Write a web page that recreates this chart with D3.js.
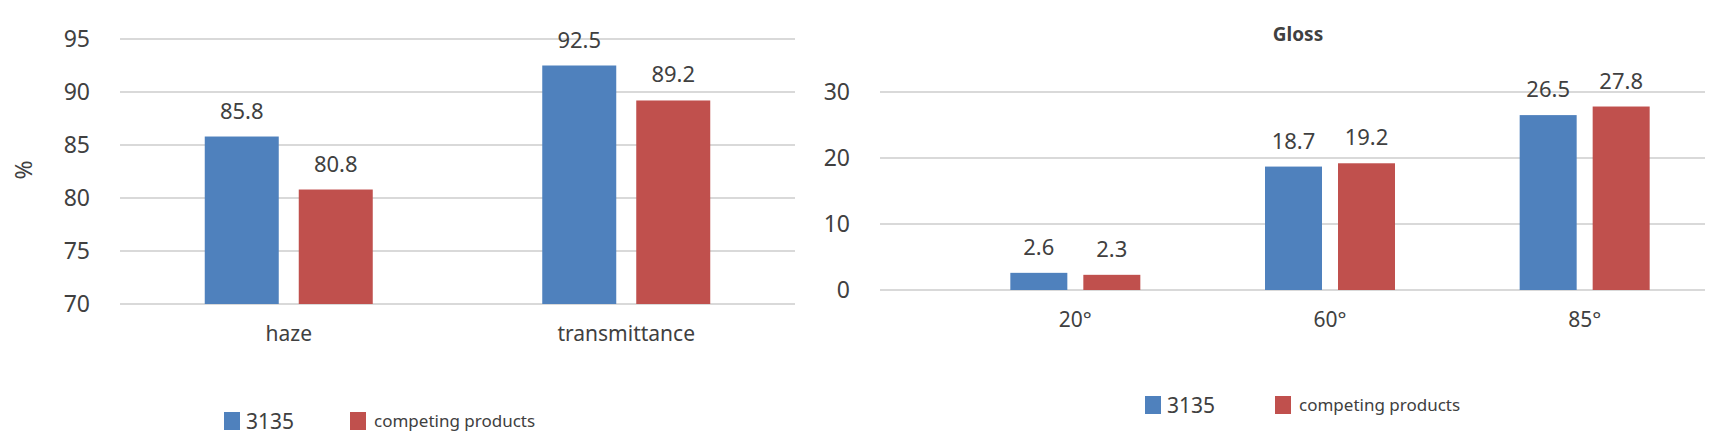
<!DOCTYPE html>
<html><head><meta charset="utf-8">
<script src="https://cdn.jsdelivr.net/npm/d3@7"></script>
<style>body{margin:0;background:#fff}text{font-family:"Noto Sans",sans-serif;fill:#404040}</style>
</head><body><div id="chart"></div>
<script>
const series = ["3135", "competing products"];
const colors = ["#4F81BD", "#C0504D"];

const leftCategories = ["haze", "transmittance"];
const leftValues = [[85.8, 92.5], [80.8, 89.2]];
const leftTicks = [70, 75, 80, 85, 90, 95];

const rightCategories = ["20°", "60°", "85°"];
const rightValues = [[2.6, 18.7, 26.5], [2.3, 19.2, 27.8]];
const rightTicks = [0, 10, 20, 30];

const svg = d3.select("#chart").append("svg").attr("width", 1716).attr("height", 441);

function drawPanel(opt) {
    const y = d3.scaleLinear().domain(opt.domain).range(opt.yRange);
    const x = d3.scaleBand().domain(opt.categories).range(opt.xRange);
    const g = svg.append("g");

    g.selectAll(".grid").data(opt.ticks).enter().append("line")
        .attr("x1", opt.gridX[0]).attr("x2", opt.gridX[1])
        .attr("y1", d => y(d)).attr("y2", d => y(d))
        .attr("stroke", "#d9d9d9").attr("stroke-width", 2);

    g.selectAll(".tick").data(opt.ticks).enter().append("text")
        .attr("x", opt.gridX[0] - 30).attr("y", d => y(d) + 8)
        .attr("text-anchor", "end").style("font-size", "23px").text(d => d);

    series.forEach((s, si) => {
        const vals = opt.values[si];
        const off = (si === 0 ? -1 : 1) * (opt.barW / 2 + opt.gap / 2);
        g.selectAll(".bar" + si).data(opt.categories).enter().append("rect")
            .attr("x", d => x(d) + x.bandwidth() / 2 + off - opt.barW / 2)
            .attr("y", (d, i) => y(vals[i]))
            .attr("width", opt.barW)
            .attr("height", (d, i) => y(opt.domain[0]) - y(vals[i]))
            .attr("fill", colors[si]);
        g.selectAll(".lab" + si).data(opt.categories).enter().append("text")
            .attr("x", d => x(d) + x.bandwidth() / 2 + off)
            .attr("y", (d, i) => y(vals[i]) - 18)
            .attr("text-anchor", "middle").style("font-size", "22px")
            .text((d, i) => vals[i]);
    });

    g.selectAll(".cat").data(opt.categories).enter().append("text")
        .attr("x", d => x(d) + x.bandwidth() / 2).attr("y", y(opt.domain[0]) + 37)
        .attr("text-anchor", "middle").style("font-size", "21px").text(d => d);

    // legend
    const lg = g.append("g").attr("transform", `translate(${opt.legend[0]},${opt.legend[1]})`);
    lg.append("rect").attr("x", 0).attr("y", -9).attr("width", 16).attr("height", 18).attr("fill", colors[0]);
    lg.append("text").attr("x", 22).attr("y", 8).style("font-size", "21px").text(series[0]);
    lg.append("rect").attr("x", opt.legendGap).attr("y", -9).attr("width", 16).attr("height", 18).attr("fill", colors[1]);
    lg.append("text").attr("x", opt.legendGap + 24).attr("y", 6).style("font-size", "17px").text(series[1]);
    return g;
}

drawPanel({
    categories: leftCategories, values: leftValues, ticks: leftTicks,
    domain: [70, 95], yRange: [304, 39], xRange: [120, 795], gridX: [120, 795],
    barW: 74, gap: 20, legend: [224, 421], legendGap: 126
});

svg.append("text").attr("transform", "translate(32,170) rotate(-90)")
    .attr("text-anchor", "middle").style("font-size", "23px").text("%");

drawPanel({
    categories: rightCategories, values: rightValues, ticks: rightTicks,
    domain: [0, 30], yRange: [290, 92], xRange: [948, 1712], gridX: [880, 1705],
    barW: 57, gap: 16, legend: [1145, 405], legendGap: 130
});

svg.append("text").attr("x", 1298).attr("y", 41).attr("text-anchor", "middle")
    .style("font-size", "19px").style("font-weight", "bold").text("Gloss");
</script></body></html>
